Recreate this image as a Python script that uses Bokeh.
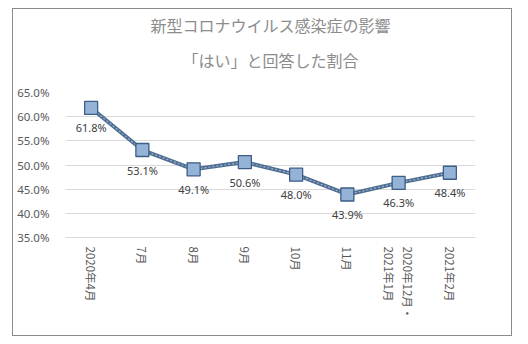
import math
from bokeh.plotting import figure
from bokeh.models import (FactorRange, Range1d, FixedTicker, NumeralTickFormatter,
                          ColumnDataSource, Title)
from bokeh.core.properties import value
from bokeh.embed import file_html
from bokeh.resources import INLINE

title_lines = ["新型コロナウイルス感染症の影響", "「はい」と回答した割合"]
categories = ["2020年4月", "7月", "8月", "9月", "10月", "11月", "2020年12月・\n2021年1月", "2021年2月"]
values = [61.8, 53.1, 49.1, 50.6, 48.0, 43.9, 46.3, 48.4]
y_ticks = [35, 40, 45, 50, 55, 60, 65]

fr = [v / 100 for v in values]
src = ColumnDataSource(dict(x=categories, y=fr, lab=["%.1f%%" % v for v in values]))

p = figure(width=500, height=328, x_range=FactorRange(*categories),
           y_range=Range1d(y_ticks[0] / 100, y_ticks[-1] / 100),
           output_backend="svg", toolbar_location=None,
           min_border_left=52, min_border_right=38, min_border_top=83, min_border_bottom=100,
           styles={"margin-left": "12px", "margin-top": "8px", "border": "1px solid #8a8a8a"})
p.outline_line_color = None
p.background_fill_color = "white"
p.border_fill_color = "white"

p.yaxis.ticker = FixedTicker(ticks=[t / 100 for t in y_ticks])
p.yaxis.formatter = NumeralTickFormatter(format="0.0%")
p.yaxis.axis_line_color = None
p.yaxis.major_tick_line_color = None
p.yaxis.minor_tick_line_color = None
p.yaxis.major_label_text_font = "Noto Sans"
p.yaxis.major_label_text_font_size = "11.5px"
p.yaxis.major_label_text_color = "#595959"
p.yaxis.major_label_standoff = 10

p.xaxis.axis_line_color = "#d9d9d9"
p.xaxis.major_tick_line_color = None
p.xaxis.minor_tick_line_color = None
p.xaxis.major_label_orientation = -math.pi / 2
p.xaxis.major_label_text_font = "Noto Sans CJK JP"
p.xaxis.major_label_text_font_size = "11.5px"
p.xaxis.major_label_text_color = "#595959"
p.xaxis.major_label_standoff = 3

p.xgrid.grid_line_color = None
p.ygrid.grid_line_color = "#d9d9d9"

p.line("x", "y", source=src, line_color="#4f6e93", line_width=4)
p.line("x", "y", source=src, line_color="#9fb3cb", line_width=1.2, line_dash="2 2")
p.scatter("x", "y", source=src, marker="square", size=13,
          fill_color="#95b3d7", line_color="#3b5d86", line_width=1.3)
p.text("x", "y", text="lab", source=src, y_offset=20, text_align="center",
       text_baseline="middle", text_font=value("Noto Sans"), text_font_size="11px",
       text_color="#404040")

p.add_layout(Title(text=" ", align="center", standoff=0,
                   text_font="Noto Sans CJK JP", text_font_size="8px",
                   text_color="#ffffff"), "above")
p.add_layout(Title(text=title_lines[1], align="center", offset=-6, standoff=15,
                   text_font="Noto Sans CJK JP", text_font_size="16px",
                   text_font_style="normal", text_color="#8c8c8c"), "above")
p.add_layout(Title(text=title_lines[0], align="center", offset=-6, standoff=3,
                   text_font="Noto Sans CJK JP", text_font_size="16px",
                   text_font_style="normal", text_color="#8c8c8c"), "above")

open("out.html", "w").write(file_html(p, INLINE))
